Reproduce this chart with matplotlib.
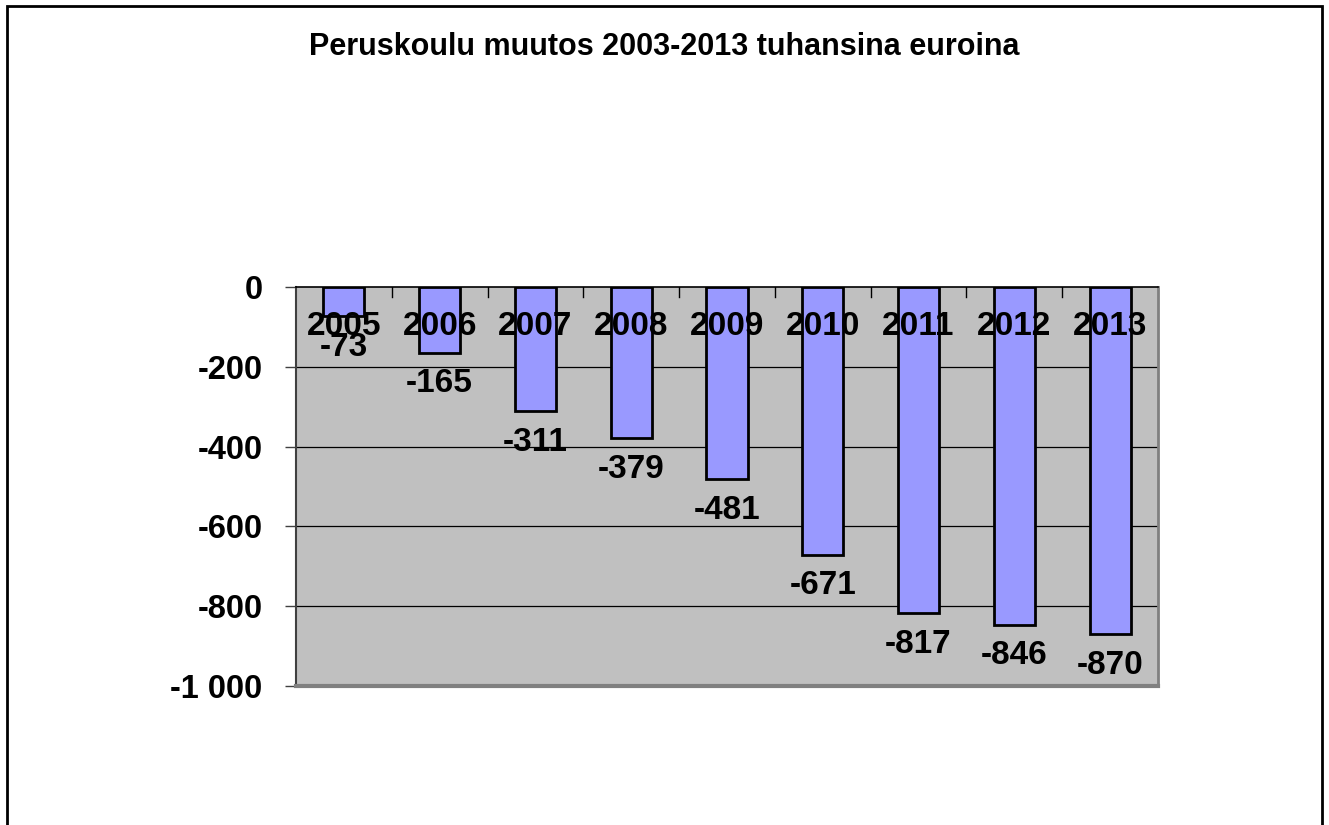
import numpy as np
import matplotlib.pyplot as plt
from matplotlib.patches import Rectangle

plt.rcParams['font.family'] = ['Liberation Sans', 'DejaVu Sans']

# Tiedot
vuodet = ['2005', '2006', '2007', '2008', '2009', '2010', '2011', '2012', '2013']
muutos = [-73, -165, -311, -379, -481, -671, -817, -846, -870]
y_ticks = [0, -200, -400, -600, -800, -1000]
y_labels = ['0', '-200', '-400', '-600', '-800', '-1 000']

fig = plt.figure(figsize=(13.29, 8.25), dpi=100)
ax = fig.add_axes([296 / 1329, 1 - 686 / 825, (1158 - 296) / 1329, (686 - 287) / 825])

x = np.arange(len(vuodet))
ax.set_facecolor('#C0C0C0')
ax.bar(x, muutos, width=0.43, color='#9999FF', edgecolor='black', linewidth=2, zorder=3)

ax.set_xlim(-0.5, len(vuodet) - 0.5)
ax.set_ylim(-1000, 0)

# ruudukko
for t in y_ticks[1:-1]:
    ax.axhline(t, color='black', linewidth=0.9, zorder=1)

ax.set_yticks(y_ticks)
ax.set_yticklabels(y_labels, fontsize=23.5, fontweight='bold')
ax.tick_params(axis='y', length=8, width=1, color='#404040', pad=16)

ax.set_xticks([])
ax.spines['top'].set_color('black')
ax.spines['top'].set_linewidth(1.2)
ax.spines['top'].set_zorder(4)
ax.spines['left'].set_color('#404040')
ax.spines['left'].set_linewidth(1.5)
ax.spines['right'].set_color('#808080')
ax.spines['right'].set_linewidth(2)
ax.spines['bottom'].set_color('#808080')
ax.spines['bottom'].set_linewidth(3)

# luokka-akselin jakoviivat nollatasolla
for b in np.arange(0.5, len(vuodet) - 0.5, 1.0):
    ax.plot([b, b], [0, -25], color='black', linewidth=1, zorder=4)

# vuosiotsikot
for i, v in enumerate(vuodet):
    ax.text(i, -100, v, ha='center', va='center', fontsize=24, fontweight='bold', zorder=5)

# arvot
for i, m in enumerate(muutos):
    ax.text(i, m - 78, f'{m}', ha='center', va='center', fontsize=24, fontweight='bold', zorder=5)

fig.text(0.5, 1 - 47 / 825, 'Peruskoulu muutos 2003-2013 tuhansina euroina',
         ha='center', va='center', fontsize=22, fontweight='bold')

# kehys
fig.patches.append(Rectangle((7 / 1329, -0.05), (1322 - 7) / 1329, 1 - 6 / 825 + 0.05,
                             transform=fig.transFigure, fill=False, edgecolor='black', linewidth=2))

fig.savefig('out.png', dpi=100)
